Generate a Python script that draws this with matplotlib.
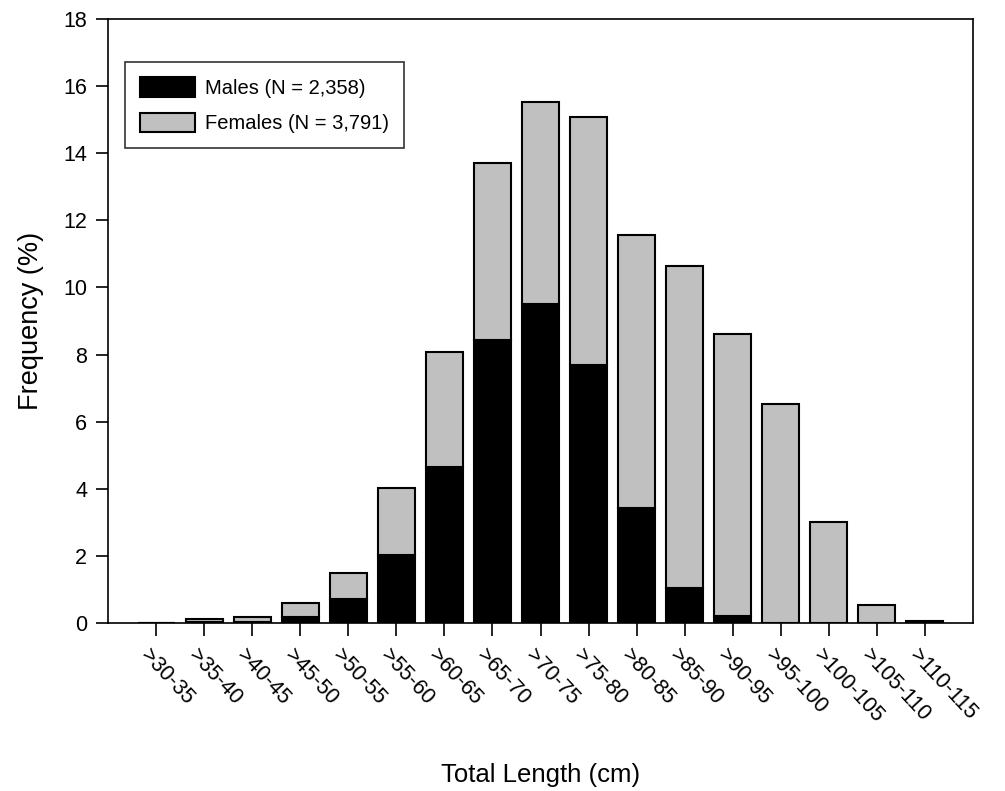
"""Stacked bar graph of total length frequency for males and females."""
import matplotlib
matplotlib.use('Agg')
from matplotlib import pyplot as plt
from matplotlib import transforms

plt.rcParams['font.family'] = ['Liberation Sans', 'DejaVu Sans']

categories = ['>30-35', '>35-40', '>40-45', '>45-50', '>50-55', '>55-60',
              '>60-65', '>65-70', '>70-75', '>75-80', '>80-85', '>85-90',
              '>90-95', '>95-100', '>100-105', '>105-110', '>110-115']
males = [0.0, 0.05, 0.03, 0.2, 0.72, 2.05, 4.65, 8.42, 9.51, 7.69, 3.43,
         1.05, 0.22, 0.02, 0.0, 0.0, 0.0]
totals = [0.0, 0.12, 0.18, 0.6, 1.5, 4.02, 8.09, 13.71, 15.53, 15.08, 11.57,
          10.65, 8.61, 6.52, 3.02, 0.55, 0.07]
females = [t - m for t, m in zip(totals, males)]

fig = plt.figure(figsize=(10.05, 7.91), dpi=100)
ax = fig.add_axes([0.1075, 0.2118, 0.8607, 0.7648])

x = range(len(categories))
ax.bar(x, males, width=0.77, color='black', edgecolor='black',
       linewidth=1.5, label='Males (N = 2,358)')
ax.bar(x, females, width=0.77, bottom=males, color='#c0c0c0',
       edgecolor='black', linewidth=1.5, label='Females (N = 3,791)')

ax.set_xlim(-1, 17)
ax.set_ylim(0, 18)
ax.set_yticks(range(0, 19, 2))
ax.set_xticks(list(x))
ax.set_xticklabels(categories, rotation=-47, ha='left', va='center',
                   rotation_mode='anchor')
ax.tick_params(axis='both', direction='out', length=9, width=1.2,
               labelsize=15.5)
ax.tick_params(axis='x', pad=12)
ax.tick_params(axis='y', pad=6)
shift = transforms.ScaledTranslation(-12 / 100, 0, fig.dpi_scale_trans)
for lab in ax.get_xticklabels():
    lab.set_transform(lab.get_transform() + shift)
for s in ax.spines.values():
    s.set_linewidth(1.2)

ax.set_ylabel('Frequency (%)', fontsize=19.5, labelpad=14)
ax.set_xlabel('Total Length (cm)', fontsize=18.5, labelpad=26)

leg = ax.legend(loc='upper left', bbox_to_anchor=(0.02, 0.928),
                fontsize=14.5, frameon=True, fancybox=False,
                edgecolor='black', handlelength=2.7, handleheight=1.1,
                handletextpad=0.5, borderpad=0.75, labelspacing=0.75,
                borderaxespad=0)
leg.get_frame().set_linewidth(1.2)

fig.savefig('out.png', dpi=100)
